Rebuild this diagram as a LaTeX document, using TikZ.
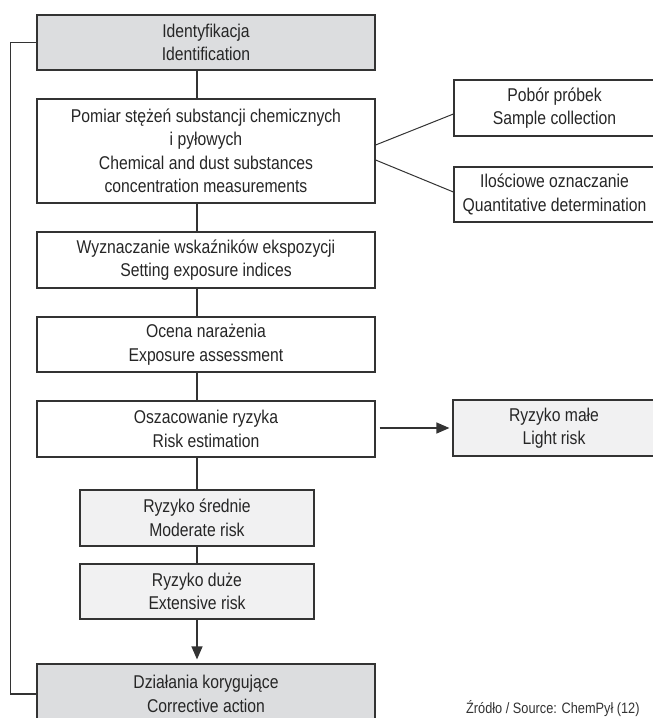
\documentclass[tikz,border=0pt]{standalone}
\usepackage{fontspec}
\setmainfont[FakeStretch=0.85]{Liberation Sans}
\usetikzlibrary{calc,arrows.meta}
\definecolor{darkfill}{HTML}{DCDDDF}
\definecolor{lightfill}{HTML}{F1F1F2}
\definecolor{linec}{HTML}{333333}
\begin{document}
\begin{tikzpicture}[x=1pt,y=-1pt,
  box/.style={draw=linec, line width=1.2pt, align=center, inner sep=0pt,
    font=\fontsize{18.5}{23.5}\selectfont, text=black!85},
  conn/.style={draw=linec, line width=1.2pt},
  arr/.style={conn, -{Triangle[length=13pt,width=11pt]}}]
\useasboundingbox (0,0) rectangle (653,718);
\fill[white] (0,0) rectangle (653,718);
\node[box, fill=darkfill, minimum width=338, minimum height=55] (ident) at (206,42.5) {Identyfikacja\\Identification};
\node[box, fill=white, minimum width=338, minimum height=104] (pomiar) at (206,151) {Pomiar stężeń substancji chemicznych\\i pyłowych\\Chemical and dust substances\\concentration measurements};
\node[box, fill=white, minimum width=338, minimum height=56] (wyzn) at (206,260) {Wyznaczanie wskaźników ekspozycji\\Setting exposure indices};
\node[box, fill=white, minimum width=338, minimum height=55] (ocena) at (206,344.5) {Ocena narażenia\\Exposure assessment};
\node[box, fill=white, minimum width=338, minimum height=56] (oszac) at (206,429) {Oszacowanie ryzyka\\Risk estimation};
\node[box, fill=lightfill, minimum width=202, minimum height=56] (mala) at (554,428) {Ryzyko małe\\Light risk};
\node[box, fill=lightfill, minimum width=234, minimum height=56] (srednie) at (197,518) {Ryzyko średnie\\Moderate risk};
\node[box, fill=lightfill, minimum width=234, minimum height=55] (duze) at (197,591.5) {Ryzyko duże\\Extensive risk};
\node[box, fill=darkfill, minimum width=338, minimum height=60] (dzial) at (206,694) {Działania korygujące\\Corrective action};
\node[box, fill=white, minimum width=201, minimum height=56] (pobor) at (554.5,108) {Pobór próbek\\Sample collection};
\node[box, fill=white, minimum width=201, minimum height=55] (ilosc) at (554.5,194.5) {Ilościowe oznaczanie\\Quantitative determination};
\node[anchor=base west, inner sep=0pt, font=\fontsize{15}{17}\selectfont, text=black!80] (src) at (466,713) {Źródło / Source: ChemPył (12)};
% connectors
\draw[conn] (ident.south -| srednie.center) -- (pomiar.north -| srednie.center);
\draw[conn] (pomiar.south -| srednie.center) -- (wyzn.north -| srednie.center);
\draw[conn] (wyzn.south -| srednie.center) -- (ocena.north -| srednie.center);
\draw[conn] (ocena.south -| srednie.center) -- (oszac.north -| srednie.center);
\draw[conn] (oszac.south -| srednie.center) -- (srednie.north);
\draw[conn] (srednie.south) -- (duze.north);
\draw[arr] (duze.south) -- ($(dzial.north -| duze.south)+(0,-4)$);
\draw[arr] ($(oszac.east)+(4,-1)$) -- ($(mala.west)+(-3,0)$);
\draw[conn, line width=1pt] ($(pomiar.east)+(0,-6)$) -- ($(pobor.west)+(0,6)$);
\draw[conn, line width=1pt] ($(pomiar.east)+(0,9)$) -- ($(ilosc.west)+(0,-2.5)$);
\draw[conn] (dzial.west) -- ++(-26,0) |- (ident.west);
\end{tikzpicture}
\end{document}
